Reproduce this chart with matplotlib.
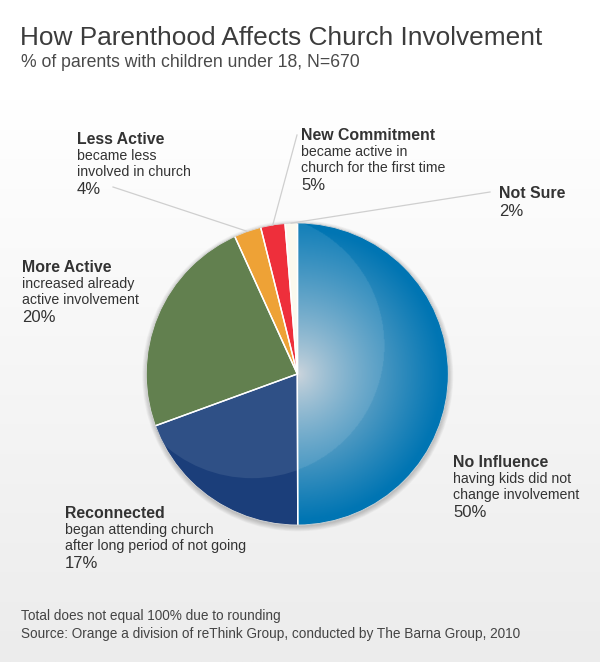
import numpy as np
import matplotlib
matplotlib.use("Agg")
import matplotlib.pyplot as plt
from matplotlib.patches import Circle
from matplotlib.colors import to_rgb

plt.rcParams['font.family'] = ['Liberation Sans', 'DejaVu Sans']

W, H = 600, 662

categories = ["No Influence", "Reconnected", "More Active",
              "Less Active", "New Commitment", "Not Sure"]
descriptions = [
    ["having kids did not", "change involvement"],
    ["began attending church", "after long period of not going"],
    ["increased already", "active involvement"],
    ["became less", "involved in church"],
    ["became active in", "church for the first time"],
    [],
]
reported_pct = [50, 17, 20, 4, 5, 2]
# slice sizes as they are drawn in the original picture
slice_share = [50.0, 19.5, 23.8, 2.9, 2.6, 1.3]
colors = ["#0577b3", "#1b3e7a", "#62804f", "#eea236", "#ee2f3b", "#fbf9ee"]

title = "How Parenthood Affects Church Involvement"
subtitle = "% of parents with children under 18, N=670"
footnotes = ["Total does not equal 100% due to rounding",
             "Source: Orange a division of reThink Group, conducted by The Barna Group, 2010"]

# label anchor (x, title baseline) in pixels, and leader-line start if any
label_pos = [(453, 467), (65, 518), (22, 272), (77, 144), (301, 140), (499, 198)]
leader_start = [None, None, None, (113, 187), (297, 135), (490, 192)]


def fx(x):
    return x / W


def fy(y):
    return 1 - y / H


fig = plt.figure(figsize=(W / 100, H / 100), dpi=100)

# background gradient
bg = fig.add_axes([0, 0, 1, 1])
bg.set_axis_off()
g = np.linspace(0, 1, 256)[:, None]
top = np.array(to_rgb("#ffffff"))
bot = np.array(to_rgb("#ececec"))
grad = top + (bot - top) * np.clip((g - 0.15) / 0.85, 0, 1)[..., None]
bg.imshow(np.repeat(grad, 2, axis=1), aspect='auto', extent=[0, 1, 0, 1])
bg.set_xlim(0, 1)
bg.set_ylim(0, 1)

# pie axes: centre (297, 374), radius 151 px
cx, cy, R = 297.3, 374, 151
lim = 1.2
ax = fig.add_axes([fx(cx - R * lim), fy(cy + R * lim), 2 * R * lim / W, 2 * R * lim / H])
ax.set_axis_off()
ax.patch.set_alpha(0)

# soft shadow
for k in range(7):
    ax.add_patch(Circle((0.003, -0.012), 1.0 + k * 0.005, fc='#000000',
                        ec='none', alpha=0.03, zorder=0))

wedges, _ = ax.pie(slice_share, colors=colors, startangle=90, counterclock=False,
                   radius=1.0, wedgeprops=dict(linewidth=0, edgecolor='none'))
for w in wedges:
    w.set_zorder(1)
ax.set_xlim(-lim, lim)
ax.set_ylim(-lim, lim)

# glossy gradient on the blue slice
n = 400
xs = np.linspace(-1, 1, n)
X, Y = np.meshgrid(xs, xs[::-1])
r = np.hypot(X, Y)
hx, hy, hr = -0.3, 0.19, 0.88
inside = np.hypot(X - hx, Y - hy) < hr
c0 = np.array(to_rgb("#ccd3da"))
c1 = np.array(to_rgb("#0075b3"))
t = (np.clip(r / 0.97, 0, 1) ** 0.8)[..., None]
img = c0 + (c1 - c0) * t
img = np.where(inside[..., None], img + (1 - img) * 0.09, img)
im = ax.imshow(img, extent=[-1, 1, -1, 1], zorder=2, interpolation='bilinear')
im.set_clip_path(wedges[0])

# lighter upper part of the navy slice
hl = Circle((hx, hy), hr, fc="#2f5086", ec='none', zorder=2)
ax.add_patch(hl)
hl.set_clip_path(wedges[1])

# white separators and thin rim
for w in wedges:
    for ang in (w.theta1, w.theta2):
        a = np.deg2rad(ang)
        ax.plot([0, np.cos(a)], [0, np.sin(a)], color='white', lw=1.0,
                zorder=3, solid_capstyle='butt')
ax.add_patch(Circle((0, 0), 1.0, fc='none', ec='#d8d8d8', lw=0.6, zorder=3))

# leader lines (from label to slice rim at mid angle)
for i, start in enumerate(leader_start):
    if start is None:
        continue
    w = wedges[i]
    a = np.deg2rad((w.theta1 + w.theta2) / 2)
    ex, ey = cx + R * np.cos(a), cy - R * np.sin(a)
    fig.add_artist(plt.Line2D([fx(start[0]), fx(ex)], [fy(start[1]), fy(ey)],
                              color='#cfcfcf', lw=0.9, zorder=1))

# titles
fig.text(fx(20), fy(45), title, fontsize=18.9, color='#3c3c3c', va='baseline')
fig.text(fx(21), fy(67), subtitle, fontsize=12.7, color='#4a4a4a', va='baseline')

# slice labels
for i, name in enumerate(categories):
    x0, y0 = label_pos[i]
    fig.text(fx(x0), fy(y0), name, fontsize=11.4, fontweight='bold',
             color='#333333', va='baseline')
    for j, line in enumerate(descriptions[i]):
        fig.text(fx(x0), fy(y0 + 16 * (j + 1)), line, fontsize=10.2,
                 color='#333333', va='baseline')
    yp = y0 + 16 * (len(descriptions[i]) + 1) + 2
    fig.text(fx(x0), fy(yp), f"{reported_pct[i]}%", fontsize=12,
             color='#333333', va='baseline')

# footnotes
fig.text(fx(21), fy(620), footnotes[0], fontsize=9.85, color='#444444', va='baseline')
fig.text(fx(21), fy(638), footnotes[1], fontsize=9.85, color='#444444', va='baseline')

fig.savefig("out.png", dpi=100)
